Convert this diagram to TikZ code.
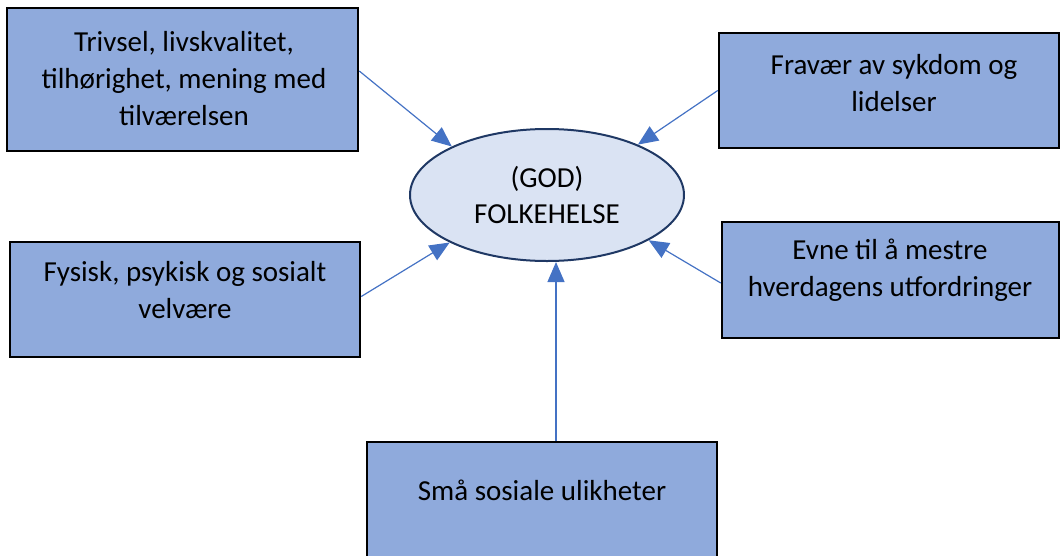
\documentclass[tikz,border=0pt]{standalone}
\usepackage{fontspec}
\setmainfont{Carlito}
\usetikzlibrary{shapes.geometric,arrows.meta}
\definecolor{boksblaa}{HTML}{8FAADC}
\definecolor{lysblaa}{HTML}{DAE3F3}
\definecolor{kantfarge}{HTML}{1F3864}
\definecolor{pilfarge}{HTML}{4472C4}

\begin{document}
\begin{tikzpicture}[x=1pt,y=-1pt,
		boks/.style={draw=black,line width=2.5pt,fill=boksblaa,inner sep=0pt},
		tekst/.style={align=center,inner sep=0pt,font=\fontsize{29}{37}\selectfont},
		sirkel/.style={ellipse,draw=kantfarge,line width=2pt,fill=lysblaa,minimum width=274pt,minimum height=132pt,inner sep=0pt,align=center,font=\fontsize{29}{36}\selectfont},
		pil/.style={draw=pilfarge,line width=1.2pt,-{Triangle[length=20pt,width=17pt,fill=pilfarge]}}]
				\useasboundingbox (0,0) rectangle (1061,555);
				\clip (0,0) rectangle (1061,555);

				\draw (182.5,79.5) node[boks,minimum width=351pt,minimum height=143pt] (trivsel) {};
				\draw (889,90.5) node[boks,minimum width=340pt,minimum height=115pt] (fravaer) {};
				\draw (185,299.5) node[boks,minimum width=350pt,minimum height=115pt] (fysisk) {};
				\draw (890.5,280) node[boks,minimum width=337pt,minimum height=116pt] (evne) {};
				\draw (542,500) node[boks,minimum width=350pt,minimum height=116pt] (smaa) {};
				\draw (547,195) node[sirkel] (folk) {(GOD)\\FOLKEHELSE};

				\draw (184,79) node[tekst] (trivseltekst) {Trivsel, livskvalitet,\\tilhørighet, mening med\\tilværelsen};
				\draw (894,83) node[tekst] (fravaertekst) {Fravær av sykdom og\\lidelser};
				\draw (185,290) node[tekst] (fysisktekst) {Fysisk, psykisk og sosialt\\velvære};
				\draw (890,270) node[tekst] (evnetekst) {Evne til å mestre\\hverdagens utfordringer};
				\draw (542,490) node[tekst] (smaatekst) {Små sosiale ulikheter};

				\path
				([yshift=8.5pt]trivsel.east) edge[pil] (folk.153)
				(fravaer.west) edge[pil] (folk.29.5)
				([yshift=3pt]fysisk.east) edge[pil] (folk.206)
				([yshift=-3pt]evne.west) edge[pil] (folk.336)
				([xshift=14pt]smaa.north) edge[pil] ([xshift=9pt]folk.south)
				;
			\end{tikzpicture}
\end{document}
